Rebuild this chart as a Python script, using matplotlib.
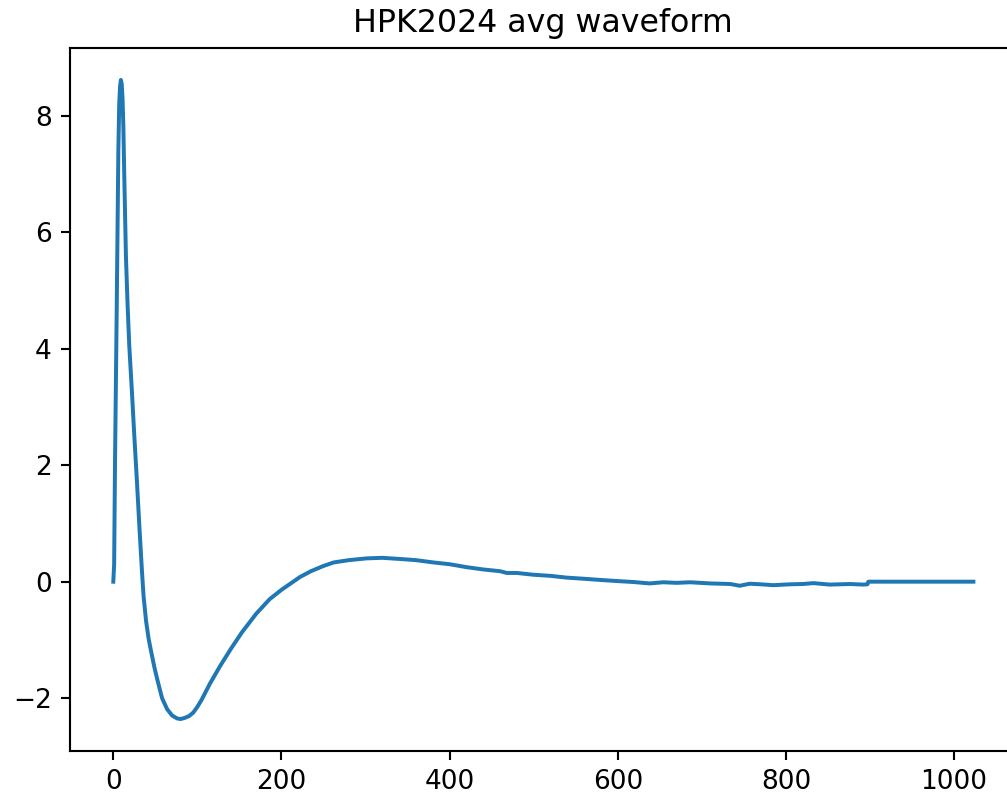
import matplotlib
matplotlib.use('Agg')
import matplotlib.pyplot as plt

# averaged waveform (sample index vs amplitude)
sample = [0, 1, 2, 3, 4, 5, 6, 7, 8, 9, 10, 11, 12, 13, 14, 15, 17, 19, 22, 25,
          28, 31, 34, 36, 39, 42, 45, 49, 53, 58, 64, 70, 76, 80, 85, 90, 95,
          100, 105, 115, 127, 140, 153, 170, 186, 200, 214, 222, 235, 250, 262,
          280, 301, 320, 341, 360, 381, 400, 420, 440, 460, 468, 480, 499, 520,
          539, 560, 579, 600, 618, 638, 654, 670, 686, 710, 734, 745, 757, 770,
          785, 805, 820, 833, 852, 876, 892, 897, 898, 950, 1000, 1023]
amplitude = [0.0, 0.3, 2.0, 3.3, 4.6, 6.0, 7.4, 8.2, 8.5, 8.62, 8.55, 8.3, 7.8,
             7.0, 6.3, 5.6, 4.75, 4.05, 3.3, 2.5, 1.75, 0.95, 0.2, -0.25, -0.68,
             -0.98, -1.2, -1.48, -1.72, -2.0, -2.19, -2.3, -2.35, -2.36, -2.34,
             -2.31, -2.25, -2.15, -2.03, -1.75, -1.45, -1.15, -0.87, -0.55, -0.3,
             -0.14, 0.0, 0.08, 0.18, 0.27, 0.33, 0.37, 0.40, 0.41, 0.39, 0.37,
             0.33, 0.30, 0.25, 0.21, 0.18, 0.15, 0.15, 0.12, 0.10, 0.07, 0.05,
             0.03, 0.01, -0.005, -0.03, -0.01, -0.02, -0.01, -0.03, -0.04, -0.07,
             -0.035, -0.045, -0.06, -0.045, -0.04, -0.025, -0.05, -0.04, -0.05,
             -0.045, 0.0, 0.0, 0.0, 0.0]

W, H, DPI = 1007, 799, 190
fig = plt.figure(figsize=(W / DPI, H / DPI), dpi=DPI)
ax = fig.add_axes([70.3 / W, 48 / H, (1016.4 - 70.3) / W, 703 / H])
ax.plot(sample, amplitude)
ax.set_title('HPK2024 avg waveform')

fig.savefig('out.png', dpi=DPI)
